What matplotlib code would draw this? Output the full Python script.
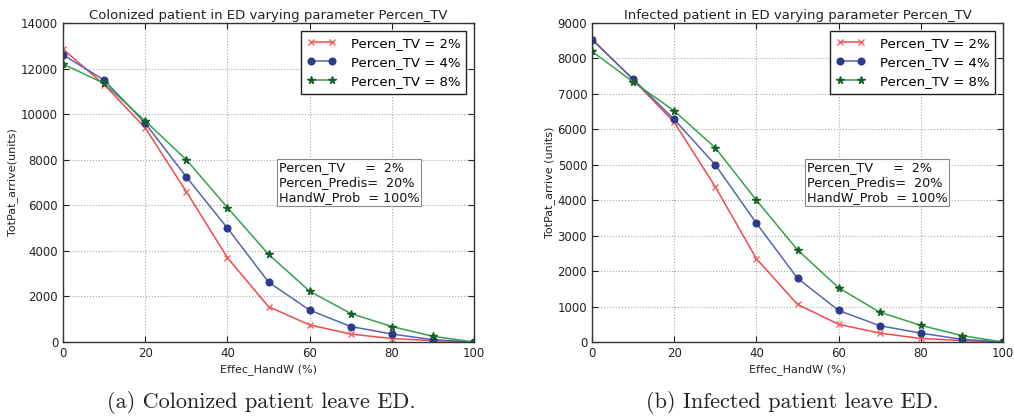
import matplotlib
matplotlib.use("Agg")
import matplotlib.pyplot as plt

x = [0, 10, 20, 30, 40, 50, 60, 70, 80, 90, 100]

col_tv2 = [12850, 11300, 9400, 6600, 3700, 1550, 750, 350, 150, 60, 0]
col_tv4 = [12600, 11500, 9600, 7250, 5000, 2630, 1400, 680, 350, 100, 0]
col_tv8 = [12200, 11350, 9700, 8000, 5900, 3850, 2230, 1250, 680, 250, 0]

inf_tv2 = [8550, 7400, 6200, 4380, 2350, 1060, 500, 250, 100, 40, 0]
inf_tv4 = [8530, 7420, 6280, 5000, 3350, 1800, 890, 460, 250, 75, 0]
inf_tv8 = [8200, 7340, 6520, 5480, 4000, 2600, 1530, 840, 470, 180, 0]

labels = ["Percen_TV = 2%", "Percen_TV = 4%", "Percen_TV = 8%"]
titles = ["Colonized patient in ED varying parameter Percen_TV",
          "Infected patient in ED varying parameter Percen_TV"]
ylabels = ["TotPat_arrive(units)", "TotPat_arrive (units)"]
xlabel = "Effec_HandW (%)"
captions = ["(a) Colonized patient leave ED.", "(b) Infected patient leave ED."]
info_text = "Percen_TV     =  2%\nPercen_Predis=  20%\nHandW_Prob  = 100%"

plt.rcParams['font.family'] = ['DejaVu Sans']
fig = plt.figure(figsize=(10.14, 4.17), dpi=100)
W, H = 1014, 417

axes_px = [(63, 474), (592, 1003)]
top, bottom = 23, 342
ylims = [(0, 14000), (0, 9000)]
yticks = [range(0, 14001, 2000), range(0, 9001, 1000)]
data = [(col_tv2, col_tv4, col_tv8), (inf_tv2, inf_tv4, inf_tv8)]
textpos = [(0.525, 0.50), (0.522, 0.50)]
cap_centers = [261, 792]

styles = [
    dict(color='#f24a4a', marker='x', markersize=4.5, markeredgecolor='#f26060', lw=1.1),
    dict(color='#5565b0', marker='o', markersize=4.8, markerfacecolor='#2c3b8c', markeredgecolor='#2c3b8c', lw=1.1),
    dict(color='#35a24a', marker='*', markersize=5.5, markerfacecolor='#16602a', markeredgecolor='#16602a', lw=1.1),
]

for i in range(2):
    l, r = axes_px[i]
    ax = fig.add_axes([l / W, 1 - bottom / H, (r - l) / W, (bottom - top) / H])
    for series, lab, st in zip(data[i], labels, styles):
        ax.plot(x, series, label=lab, **st)
    ax.set_xlim(0, 100)
    ax.set_ylim(*ylims[i])
    ax.set_xticks(range(0, 101, 20))
    ax.set_yticks(list(yticks[i]))
    ax.grid(True, linestyle=':', color='#aaaaaa', lw=0.8)
    ax.tick_params(direction='in', labelsize=8.5, colors='#222222', length=4, top=True, right=True)
    for s in ax.spines.values():
        s.set_color('#333333')
        s.set_linewidth(1.0)
    ax.set_title(titles[i], fontsize=9.5, pad=3, color='#222222')
    ax.set_xlabel(xlabel, fontsize=8, color='#222222', labelpad=3)
    ax.set_ylabel(ylabels[i], fontsize=8, color='#222222', labelpad=2)
    leg = ax.legend(loc='upper right', fontsize=9.5, fancybox=False, framealpha=1,
                    edgecolor='#222222', handlelength=2.2, borderpad=0.45,
                    labelspacing=0.45, handletextpad=1.1, numpoints=2,
                    borderaxespad=0.6)
    leg.get_frame().set_linewidth(1.0)
    ax.text(textpos[i][0], textpos[i][1], info_text, transform=ax.transAxes,
            ha='left', va='center', fontsize=9.2, color='#111111', linespacing=1.2,
            multialignment='left',
            bbox=dict(boxstyle='square,pad=0.15', fc='white', ec='#888888', lw=0.8))
    fig.text(cap_centers[i] / W, 1 - 402 / H, captions[i], ha='center', va='center',
             fontsize=16, family=['cmr10', 'DejaVu Serif'], color='#222222')

fig.savefig("out.png", dpi=100)
